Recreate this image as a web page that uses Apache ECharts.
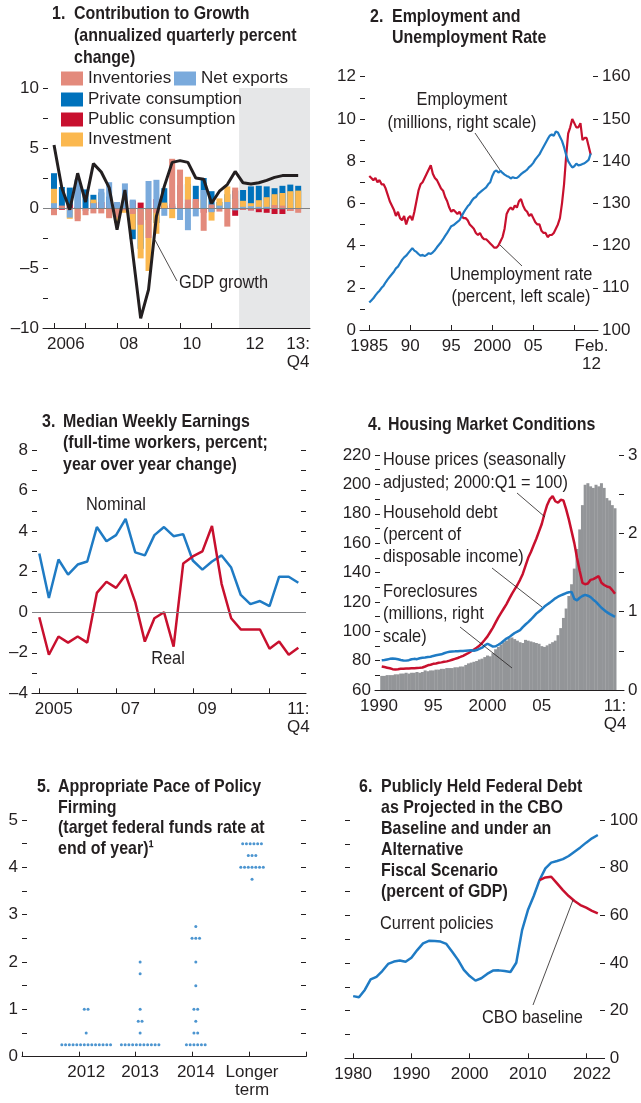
<!DOCTYPE html>
<html>
<head>
<meta charset="utf-8">
<title>US economy panels</title>
<script src="https://cdn.jsdelivr.net/npm/echarts@6.0.0/dist/echarts.min.js"></script>
<style>
  html, body { margin: 0; padding: 0; background: #fff; }
  #charts { width: 641px; height: 1103px; }
</style>
</head>
<body>
<div id="charts"></div>
<script>
// ---- 1. contribution to growth, quarterly 2006:Q1 - 2013:Q4 ----
var growthTicks = [0, 4, 8, 12, 16, 20, 24, 28, 32];
var growthLabelPos = [1.5, 9.5, 17.5, 25.5, 31];
var growthLabels = ['2006', '08', '10', '12', '13:\nQ4'];
var privateConsumption = [2.9, 1.75, 1.7, 2.3, 1.55, 1.1, 1.3, 0.95, -0.55, 0, -2.6, -3.4, -1.0, -1.25, 1.65, 0.35,
  1.9, 2.0, 1.85, 2.5, 1.4, 0.5, 1.15, 1.45, 1.5, 1.8, 1.85, 1.8, 1.65, 1.85, 1.95, 1.85];
var publicConsumption = [0.7, -0.15, 0.3, 0.1, 0, 0.45, 0.5, 0.15, 0.45, 0, 0.6, 0.45, -0.15, 0.75, 0.2, 0.15,
  0, 0.4, 0, -0.4, -0.3, 0, 0, -0.65, -0.15, -0.2, -0.35, -0.4, -0.5, -0.5, -0.25, -0.1];
var investment = [1.6, 0, -0.9, -0.9, -0.1, 0.7, 0, -0.75, -1.25, -0.4, -1.8, -4.2, -5.25, -2.15, 0.45, -0.85,
  0, 2.6, 0.55, 0.7, -1.05, 0.8, 1.8, 0.75, 0.6, 0.4, 0.65, 0.9, 1.15, 1.25, 1.4, 1.45];
var netExports = [0.4, -0.05, -0.8, 2.4, -0.25, 0.4, 1.6, 2.15, 0.5, 2.05, 0.7, -0.3, 2.25, 2.35, -0.65, 0.1,
  -1.0, -1.85, -0.7, 1.5, -0.35, 0.2, 0.5, -0.2, 0.1, 0.15, 0.1, 0.1, 0, -0.1, -0.15, 0];
var inventories = [-0.6, 0.2, -0.15, -1.1, -0.6, -0.45, -0.45, -0.85, -0.8, -0.2, -0.5, -1.4, -2.5, -0.4, 0, 4.1,
  3.2, 0.7, 0.75, -1.9, 0.3, -0.3, -1.55, 1.7, -0.15, -0.15, -0.1, -0.05, 0.25, 0.2, -0.25, -0.4];
var gdpGrowth = [5.25, 1.65, -0.15, 2.9, 0.5, 3.7, 3.0, 1.7, -1.8, 1.5, -3.8, -9.2, -6.8, -0.7, 1.8, 3.8,
  3.95, 3.8, 2.5, 2.4, 0.4, 1.4, 1.95, 3.05, 2.1, 2.0, 2.1, 2.3, 2.55, 2.7, 2.7, 2.7];
var projectionFrom = 23.5; // 2012:Q1 onwards shaded

// ---- 2. employment and unemployment rate, quarterly 1985:Q1 - 2012:Q1 ----
var laborStart = 1985;
var laborTicks = [1985, 1990, 1995, 2000, 2005, 2010];
var laborLabelPos = [1985, 1990, 1995, 2000, 2005, 2012.1];
var laborLabels = ['1985', '90', '95', '2000', '05', 'Feb.\n12'];
var unemploymentRate = [
  7.3, 7.2, 7.1, 7.2, 7.0, 7.1, 6.9, 6.9, 6.7, 6.4, 6.1, 5.9, 5.7, 5.4, 5.6, 5.3,
  5.2, 5.4, 5.0, 5.3, 5.4, 5.2, 5.6, 6.1, 6.6, 6.9, 7.0, 7.2, 7.4, 7.6, 7.8, 7.4,
  7.2, 7.1, 6.9, 6.7, 6.6, 6.3, 6.1, 5.8, 5.6, 5.7, 5.6, 5.5, 5.6, 5.4, 5.3, 5.3,
  5.2, 5.0, 4.9, 4.8, 4.6, 4.5, 4.6, 4.4, 4.3, 4.3, 4.2, 4.1, 4.0, 3.9, 3.9, 4.0,
  4.2, 4.4, 4.8, 5.5, 5.7, 5.8, 5.7, 5.9, 5.8, 6.1, 6.2, 5.9, 5.7, 5.6, 5.4, 5.5,
  5.3, 5.1, 5.0, 5.0, 4.7, 4.6, 4.6, 4.4, 4.5, 4.5, 4.6, 4.8, 5.0, 5.3, 6.0, 6.9,
  8.2, 9.3, 9.6, 10.0, 9.8, 9.6, 9.6, 9.8, 9.0, 9.1, 9.1, 8.7, 8.3];
var employment = [
  106.5, 107.0, 107.5, 108.2, 108.8, 109.3, 110.0, 110.5, 111.3, 112.0, 112.6, 113.2, 113.8, 114.6, 115.0, 115.8,
  116.6, 117.2, 117.6, 118.2, 118.8, 119.4, 118.8, 118.5, 118.0, 117.6, 117.8, 117.5, 117.8, 118.2, 118.0, 118.4,
  118.9, 119.6, 120.2, 120.8, 121.5, 122.3, 123.0, 123.8, 124.6, 124.8, 125.2, 125.6, 126.0, 126.9, 127.8, 128.6,
  129.3, 129.8, 130.6, 131.2, 131.5, 132.2, 132.6, 133.0, 133.4, 133.8, 134.5, 135.0, 136.5, 137.5, 137.8, 137.3,
  137.7, 137.2, 136.8, 136.5, 136.3, 135.9, 136.2, 136.0, 136.0, 136.4, 136.9, 137.3, 137.6, 138.0, 138.6, 139.0,
  139.6, 140.4, 141.0, 141.6, 142.5, 143.4, 144.3, 145.2, 146.0, 146.3, 146.0, 147.0, 146.8, 145.8, 144.8, 143.3,
  141.5, 140.0, 139.2, 138.5, 138.8, 139.4, 139.0, 139.1, 139.3, 139.5, 139.9, 140.3, 141.8];

// ---- 3. median weekly earnings, quarterly 2005:Q1 - 2011:Q4 ----
var earningsTicks = [0, 4, 8, 12, 16, 20, 24];
var earningsLabelPos = [1.5, 9.5, 17.5, 27];
var earningsLabels = ['2005', '07', '09', '11:\nQ4'];
var nominalEarnings = [2.9, 0.7, 2.6, 1.85, 2.35, 2.5, 4.2, 3.5, 3.8, 4.6, 2.95, 2.8, 3.8, 4.2,
  3.75, 3.85, 2.55, 2.1, 2.5, 2.8, 2.2, 0.85, 0.4, 0.55, 0.3, 1.75, 1.75, 1.45];
var realEarnings = [-0.25, -2.1, -1.2, -1.5, -1.2, -1.5, 0.95, 1.5, 1.2, 1.85, 0.5, -1.45, -0.3, 0.0,
  -1.7, 2.4, 2.75, 3.0, 4.25, 1.4, -0.3, -0.85, -0.85, -0.85, -1.8, -1.45, -2.1, -1.75];

// ---- 4. housing market, quarterly 1990:Q2 - 2011:Q4 ----
var housingStart = 1990.25;
var housingLabelPos = [1990, 1995, 2000, 2005, 2011.75];
var housingLabels = ['1990', '95', '2000', '05', '11:\nQ4'];
var foreclosures = [
  0.18, 0.18, 0.19, 0.19, 0.19, 0.20, 0.20, 0.21, 0.21, 0.22, 0.21, 0.22, 0.22, 0.23, 0.22,
  0.23, 0.25, 0.24, 0.25, 0.25, 0.26, 0.26, 0.27, 0.27, 0.28, 0.28, 0.28, 0.29, 0.29, 0.30, 0.30,
  0.32, 0.34, 0.35, 0.36, 0.37, 0.39, 0.40, 0.42, 0.44, 0.43, 0.47, 0.52, 0.55, 0.58, 0.61, 0.63,
  0.66, 0.67, 0.65, 0.63, 0.61, 0.60, 0.64, 0.63, 0.62, 0.61, 0.60, 0.59, 0.56, 0.55, 0.57, 0.59,
  0.61, 0.63, 0.70, 0.79, 0.92, 1.04, 1.20, 1.35, 1.55, 1.80, 2.05, 2.36, 2.62, 2.64, 2.60, 2.58,
  2.62, 2.60, 2.64, 2.58, 2.45, 2.42, 2.36, 2.32];
var housePrices = [
  76.0, 75.6, 75.2, 74.8, 74.2, 74.0, 74.2, 74.5, 74.5, 74.6, 74.7, 74.8, 74.8, 75.0, 75.1,
  75.3, 76.0, 76.8, 77.2, 77.8, 78.1, 78.5, 78.8, 79.2, 79.5, 80.0, 80.6, 81.2, 81.8, 82.5, 83.3,
  84.2, 85.2, 86.4, 87.6, 88.8, 90.2, 92.0, 94.2, 96.5, 99.5, 102.5, 106.0, 109.5, 112.5, 115.5, 118.5,
  122.0, 125.5, 128.5, 131.5, 135.0, 139.0, 144.5, 150.0, 154.0, 158.5, 163.0, 168.0, 173.0, 180.0, 186.0, 190.0,
  192.0, 188.5, 187.5, 189.5, 189.0, 183.0, 176.0, 168.0, 160.0, 150.0, 141.0, 133.0, 132.0, 132.5, 135.0, 135.5,
  136.5, 137.5, 133.0, 131.5, 130.5, 130.0, 128.0, 125.5];
var householdDebt = [
  80.2, 80.4, 80.8, 81.2, 81.4, 81.3, 80.9, 80.4, 80.1, 80.0, 80.3, 80.9, 81.2, 81.0, 81.6,
  81.9, 82.1, 82.4, 82.6, 83.2, 83.6, 84.0, 84.3, 85.0, 85.6, 86.0, 86.2, 86.3, 86.4, 86.6, 86.5,
  86.8, 86.9, 87.0, 86.7, 87.2, 88.0, 88.8, 90.4, 91.5, 90.5, 89.6, 89.8, 90.8, 92.0, 93.5, 95.0,
  96.0, 97.4, 98.8, 99.8, 100.8, 102.8, 104.6, 106.2, 108.0, 110.0, 112.0, 113.5, 115.0, 116.8, 118.2, 119.5,
  121.0, 122.4, 123.5, 124.4, 125.2, 126.0, 126.5, 126.8, 122.0, 121.0, 122.8, 124.0, 124.8, 124.2, 123.2, 121.5,
  120.0, 118.0, 116.0, 114.5, 113.0, 111.8, 110.8, 109.8];

// ---- 5. policy firming: [rate, number of participants] ----
var firmingGroups = ['2012', '2013', '2014', 'Longer\nterm'];
var firmingCenters = [1.13, 2.08, 3.06, 4.05];
var dots2012 = [[0.25, 14], [0.5, 1], [1.0, 2]];
var dots2013 = [[0.25, 11], [0.5, 1], [0.75, 2], [1.0, 1], [1.75, 1], [2.0, 1]];
var dots2014 = [[0.25, 6], [0.5, 2], [0.75, 1], [1.0, 2], [1.5, 1], [2.0, 1], [2.5, 3], [2.75, 1]];
var dotsLonger = [[3.75, 1], [4.0, 7], [4.25, 3], [4.5, 6]];

// ---- 6. federal debt, annual ----
var debtStart = 1980;
var debtTicks = [1980, 1990, 2000, 2010, 2020];
var debtLabelPos = [1980, 1990, 2000, 2010, 2021];
var debtLabels = ['1980', '1990', '2000', '2010', '2022'];
var currentPolicies = [26.1, 25.6, 28.7, 33.1, 34.2, 36.6, 39.6, 40.6, 41.0, 40.5,
  42.2, 45.4, 48.2, 49.3, 49.2, 49.0, 48.0, 44.7, 41.3, 37.1,
  34.5, 32.6, 33.6, 35.4, 36.8, 36.9, 36.6, 36.2, 40.1, 53.8,
  62.2, 68.1, 74.8, 79.7, 82.1, 82.8, 83.6, 84.9, 86.7, 88.5, 90.5, 92.3, 93.7];
var cboStart = 2012;
var cboBaseline = [74.8, 75.9, 76.2, 73.4, 70.6, 68.1, 66.0, 64.3, 63.2, 61.9, 60.8];

var FONT = "'Liberation Sans', Arial, sans-serif";
var INK = '#231f20';
var RED = '#c8102e';
var BLUE = '#1f7bc4';

var GRIDS = [
  { left: 43, top: 88, width: 267, height: 240 },
  { left: 360, top: 76.7, width: 238, height: 253.3 },
  { left: 32, top: 450, width: 274, height: 243.3 },
  { left: 375, top: 455, width: 249, height: 235 },
  { left: 22, top: 820, width: 284, height: 236.7 },
  { left: 345, top: 820, width: 260, height: 238.3 },
  // thin strips along the right edge of panels 2, 4 and 6, carrying only tick marks
  { left: 598, top: 76.7, width: 8, height: 253.3 },
  { left: 624, top: 455, width: 8, height: 235 },
  { left: 605, top: 820, width: 8, height: 238.3 }
];

function txtStyle(size) { return { color: INK, fontFamily: FONT, fontSize: size || 17 }; }

function pick(vals, texts) {
  return function (v) {
    for (var i = 0; i < vals.length; i++) {
      if (Math.abs(vals[i] - v) < 1e-6) return texts[i];
    }
    return '';
  };
}
function every(step) {
  return function (v) {
    var r = v / step;
    if (Math.abs(r - Math.round(r)) > 1e-6) return '';
    return v < 0 ? '\u2013' + Math.abs(v) : String(v);
  };
}
function xDef(grid, min, max, ticks, labelPos, labels) {
  return {
    type: 'value', gridIndex: grid, min: min, max: max,
    axisLine: { show: true, onZero: false, lineStyle: { color: INK, width: 1 } },
    axisTick: ticks ? { show: true, inside: true, length: 5, customValues: ticks, lineStyle: { color: INK } } : { show: false },
    axisLabel: Object.assign(txtStyle(), { customValues: labelPos, formatter: pick(labelPos, labels), margin: 7, lineHeight: 18 }),
    splitLine: { show: false }
  };
}
function yDef(grid, pos, min, max, interval, labelStep, noTicks, margin) {
  return {
    type: 'value', gridIndex: grid, position: pos, min: min, max: max, interval: interval,
    axisLine: { show: false, onZero: false },
    axisTick: { show: !noTicks, inside: true, length: 5, lineStyle: { color: INK } },
    axisLabel: labelStep ? Object.assign(txtStyle(), { formatter: every(labelStep), margin: margin || 4 }) : { show: false },
    splitLine: { show: false }
  };
}
function stripX(grid) {
  return { type: 'value', gridIndex: grid, min: 0, max: 1, show: false };
}
// left axis of a strip: its outward ticks point back into the panel
function stripTicks(grid, min, max, interval) {
  return {
    type: 'value', gridIndex: grid, position: 'left', min: min, max: max, interval: interval,
    axisLine: { show: false, onZero: false },
    axisTick: { show: true, inside: false, length: 5, lineStyle: { color: INK } },
    axisLabel: { show: false },
    splitLine: { show: false }
  };
}
function byIndex(values, start, step) {
  return values.map(function (v, i) { return [start + i * step, v]; });
}
function line(name, xi, yi, data, color, width) {
  return { name: name, type: 'line', xAxisIndex: xi, yAxisIndex: yi, data: data, symbol: 'none',
    lineStyle: { color: color, width: width || 2.5 }, itemStyle: { color: color }, z: 4 };
}
function stackBar(name, values, color) {
  return { name: name, type: 'bar', xAxisIndex: 0, yAxisIndex: 0, stack: 'growth', barWidth: 6,
    data: byIndex(values, 0, 1), itemStyle: { color: color }, z: 2 };
}
function dotsFor(groupIndex, rows) {
  var pts = [];
  rows.forEach(function (row) {
    for (var j = 0; j < row[1]; j++) {
      pts.push([firmingCenters[groupIndex] + (j - (row[1] - 1) / 2) * 0.066, row[0]]);
    }
  });
  return pts;
}
function legendAt(name, left, top) {
  return { data: [name], left: left, top: top, padding: 0, itemWidth: 22, itemHeight: 14, icon: 'rect',
    selectedMode: false, textStyle: txtStyle() };
}
function text(x, y, s, opt, squeeze) {
  return { type: 'text', x: x, y: y, z: 100, scaleX: squeeze || 0.86, silent: true,
    style: Object.assign({ text: s, fill: INK, font: '19px ' + FONT, align: 'left', verticalAlign: 'middle' }, opt || {}) };
}
function heading(xn, xb, top, lh, num, body) {
  var f = 'bold 19px ' + FONT;
  return [text(xn, top, num, { font: f, verticalAlign: 'top', lineHeight: lh }, 0.84),
          text(xb, top, body, { font: f, verticalAlign: 'top', lineHeight: lh }, 0.84)];
}
function seg(x1, y1, x2, y2) {
  return { type: 'line', z: 100, silent: true, shape: { x1: x1, y1: y1, x2: x2, y2: y2 }, style: { stroke: INK, lineWidth: 0.8 } };
}
var zeroLine = { silent: true, symbol: ['none', 'none'], label: { show: false },
  lineStyle: { color: '#808285', width: 1, type: 'solid' }, data: [{ yAxis: 0 }] };

var fedDots = dotsFor(0, dots2012).concat(dotsFor(1, dots2013), dotsFor(2, dots2014), dotsFor(3, dotsLonger));

var chart = echarts.init(document.getElementById('charts'), null, { renderer: 'canvas' });
var option = {
  animation: false,
  backgroundColor: '#fff',
  grid: GRIDS,
  xAxis: [
    xDef(0, -1.4, 32.5, growthTicks, growthLabelPos, growthLabels),
    xDef(1, 1983.87, 2012.89, laborTicks, laborLabelPos, laborLabels),
    xDef(2, -0.76, 27.8, earningsTicks, earningsLabelPos, earningsLabels),
    xDef(3, 1989.63, 2012.58, null, housingLabelPos, housingLabels),
    xDef(4, 0, 5, [0, 1, 2, 3, 4, 5], firmingCenters, firmingGroups),
    xDef(5, 1978.6, 2023.17, debtTicks, debtLabelPos, debtLabels),
    stripX(6), stripX(7), stripX(8)
  ],
  yAxis: [
    yDef(0, 'left', -10, 10, 2.5, 5),
    yDef(0, 'right', -10, 10, 2.5, 0),
    yDef(1, 'left', 0, 12, 1, 2),
    yDef(1, 'right', 100, 160, 10, 10, true, 4),
    yDef(2, 'left', -4, 8, 1, 2),
    yDef(2, 'right', -4, 8, 1, 0),
    yDef(3, 'left', 60, 220, 10, 20),
    yDef(3, 'right', 0, 3, 0.5, 1, true, 4),
    yDef(4, 'left', 0, 5, 0.5, 1),
    yDef(4, 'right', 0, 5, 0.5, 0),
    yDef(5, 'left', 0, 100, 10, 0),
    yDef(5, 'right', 0, 100, 20, 20, true, 5),
    stripTicks(6, 100, 160, 10),
    stripTicks(7, 0, 3, 0.5),
    stripTicks(8, 0, 100, 20)
  ],
  legend: [
    legendAt('Inventories', 61, 70),
    legendAt('Net exports', 174, 70),
    legendAt('Private consumption', 61, 91),
    legendAt('Public consumption', 61, 111),
    legendAt('Investment', 61, 131)
  ],
  series: [
    Object.assign(stackBar('Private consumption', privateConsumption, '#0072bc'), {
      markArea: { silent: true, itemStyle: { color: '#e6e7e8' }, data: [[{ xAxis: projectionFrom }, { xAxis: 32.5 }]] }
    }),
    stackBar('Public consumption', publicConsumption, '#c8102e'),
    stackBar('Investment', investment, '#fbb84f'),
    stackBar('Net exports', netExports, '#7aaadc'),
    stackBar('Inventories', inventories, '#e38a7c'),
    Object.assign(line('GDP growth', 0, 0, byIndex(gdpGrowth, 0, 1), INK, 3), { z: 6, markLine: zeroLine }),

    line('Unemployment rate', 1, 2, byIndex(unemploymentRate, laborStart, 0.25), RED, 2.2),
    line('Employment', 1, 3, byIndex(employment, laborStart, 0.25), BLUE, 2.2),

    Object.assign(line('Nominal', 2, 4, byIndex(nominalEarnings, 0, 1), BLUE), { markLine: zeroLine }),
    line('Real', 2, 4, byIndex(realEarnings, 0, 1), RED),

    { name: 'Foreclosures', type: 'bar', xAxisIndex: 3, yAxisIndex: 7, barWidth: 3,
      data: byIndex(foreclosures, housingStart, 0.25), itemStyle: { color: '#939598' }, z: 2 },
    line('House prices', 3, 6, byIndex(housePrices, housingStart, 0.25), RED),
    line('Household debt', 3, 6, byIndex(householdDebt, housingStart, 0.25), BLUE),

    { name: 'Federal funds rate', type: 'scatter', xAxisIndex: 4, yAxisIndex: 8, data: fedDots,
      symbolSize: 3, itemStyle: { color: BLUE } },

    line('Current policies', 5, 11, byIndex(currentPolicies, debtStart, 1), BLUE),
    line('CBO baseline', 5, 11, byIndex(cboBaseline, cboStart, 1), RED)
  ],
  graphic: [].concat(
    heading(52, 74, 3, 22, '1.', 'Contribution to Growth\n(annualized quarterly percent\nchange)'),
    heading(370, 392, 6.5, 21, '2.', 'Employment and\nUnemployment Rate'),
    heading(42, 63, 411, 21.5, '3.', 'Median Weekly Earnings\n(full-time workers, percent;\nyear over year change)'),
    heading(368, 388, 414, 22, '4.', 'Housing Market Conditions'),
    heading(37, 58, 777, 20.5, '5.', 'Appropriate Pace of Policy\nFirming\n(target federal funds rate at\nend of year)\u00b9'),
    heading(359, 381, 776.5, 21, '6.', 'Publicly Held Federal Debt\nas Projected in the CBO\nBaseline and under an\nAlternative\nFiscal Scenario\n(percent of GDP)'),
    [
      text(179, 283, 'GDP growth'),
      seg(155, 240, 177, 281),
      text(462, 88.5, 'Employment\n(millions, right scale)', { align: 'center', verticalAlign: 'top', lineHeight: 23 }),
      seg(475, 133, 500, 170),
      text(521, 264, 'Unemployment rate\n(percent, left scale)', { align: 'center', verticalAlign: 'top', lineHeight: 22 }),
      seg(500, 245, 522, 266),
      text(116, 505, 'Nominal', { align: 'center' }),
      text(168, 659, 'Real', { align: 'center' }),
      text(383, 448.5, 'House prices (seasonally\nadjusted; 2000:Q1 = 100)', { verticalAlign: 'top', lineHeight: 23 }),
      seg(517, 493, 545, 517),
      text(383, 502, 'Household debt\n(percent of\ndisposable income)', { verticalAlign: 'top', lineHeight: 22 }),
      seg(492, 568, 542, 607),
      text(383, 580.5, 'Foreclosures\n(millions, right\nscale)', { verticalAlign: 'top', lineHeight: 22.5 }),
      seg(460, 627, 512, 668),
      text(380, 924, 'Current policies'),
      text(482, 1018, 'CBO baseline'),
      seg(573, 900, 533, 1005)
    ]
  )
};
chart.setOption(option);
</script>
</body>
</html>
